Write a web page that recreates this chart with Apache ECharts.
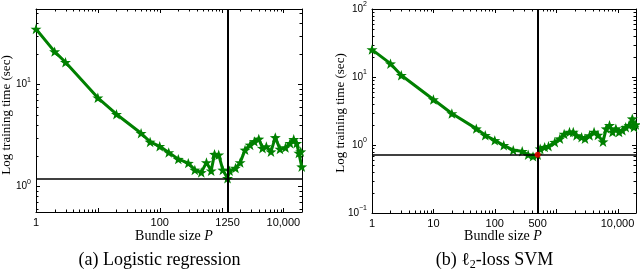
<!DOCTYPE html>
<html>
<head>
<meta charset="utf-8">
<script src="https://cdn.jsdelivr.net/npm/echarts@6/dist/echarts.min.js"></script>
<style>html,body{margin:0;padding:0;background:#fff;}#c{width:640px;height:271px;}</style>
</head>
<body>
<div id="c"></div>
<script>
// ---- data (a) Logistic regression ----
const leftP = [1,2,3,10,20,50,70,100,140,200,290,370,470,570,680,770,900,1050,1250,1350,1680,2000,2400,2900,3400,4000,4600,5300,6300,7400,8800,10800,12800,14700,16400,17800,19100,19800];
const leftT = [35,21,16.5,7.4,5.1,3.32,2.73,2.47,2.15,1.85,1.69,1.45,1.37,1.71,1.42,2.07,2.04,1.45,1.2,1.42,1.51,1.71,2.28,2.55,2.76,2.92,2.37,2.46,2.19,3.02,2.32,2.4,2.65,2.9,2.65,2.12,2.19,1.56];
const leftBestP = 1250;
const leftBestT = 1.2;
// ---- data (b) l2-loss SVM ----
const rightP = [1,2,3,10,20,50,70,100,140,200,280,350,420,500,550,650,750,950,1150,1350,1650,1900,2150,2600,2950,3500,4150,4800,5800,6550,7400,8300,9400,10600,12000,13600,15400,17400,18500,19800];
const rightT = [25.3,15.7,10.6,4.66,2.9,1.74,1.39,1.17,0.99,0.84,0.81,0.72,0.68,0.72,0.88,0.93,0.96,1.1,1.24,1.45,1.55,1.55,1.38,1.3,1.24,1.38,1.55,1.4,1.12,1.74,1.95,1.55,1.74,1.55,1.64,1.83,1.95,2.44,1.83,2.0];
const rightBestP = 500;
const rightBestT = 0.72;
// ---- tick labels ----
const leftXLabels = [1,100,1250,10000];
const rightXLabels = [1,10,100,500,10000];
const leftYLabels = [1,10];
const rightYLabels = [0.1,1,10,100];
const xRange = [1,20000];
const leftYRange = [0.56,55];
const rightYRange = [0.1,100];

const GREEN = '#008000';
const STAR = 'path://M0,-10 L2.35,-3.24 L9.51,-3.09 L3.8,1.24 L5.88,8.09 L0,4 L-5.88,8.09 L-3.8,1.24 L-9.51,-3.09 L-2.35,-3.24 Z';
const sans = 'Liberation Sans';
const serif = 'Liberation Serif';

// tick positions on a log axis: decades (major) and 2..9 multiples (minor)
function logTicks(lo, hi){
  const out=[];
  for(let d=-3; d<=6; d++){
    for(let m=1;m<=9;m++){
      const v = +(m*Math.pow(10,d)).toPrecision(6);
      if(v>=lo*0.9999 && v<=hi*1.0001) out.push([v, m===1]);
    }
  }
  return out;
}
function xFmt(v){ return v>=10000 ? String(v).replace(/\B(?=(\d{3})+(?!\d))/g, ',') : String(v); }
function yFmt(v){ const e=Math.round(Math.log10(v)); return '{b|10}{s|'+(e<0?'\u2212'+(-e):e)+'}'; }

const axCommon = {
  axisLine:{show:true, onZero:false, lineStyle:{color:'#000', width:1}},
  axisTick:{show:false}, minorTick:{show:false},
  splitLine:{show:false}, minorSplitLine:{show:false}
};
function xAxes(grid, labels){
  const base = Object.assign({type:'log', logBase:10, gridIndex:grid, min:xRange[0], max:xRange[1]}, axCommon);
  return [
    Object.assign({}, base, {position:'bottom', axisLabel:{show:true, customValues:labels, formatter:xFmt, margin:5, color:'#000', fontFamily:sans, fontSize:11}}),
    Object.assign({}, base, {position:'top', axisLabel:{show:false}})
  ];
}
function yAxes(grid, range, labels){
  const base = Object.assign({type:'log', logBase:10, gridIndex:grid, min:range[0], max:range[1]}, axCommon);
  return [
    Object.assign({}, base, {position:'left', axisLabel:{show:true, customValues:labels, formatter:yFmt, margin:5, color:'#000',
      rich:{b:{fontFamily:sans, fontSize:10, lineHeight:16, verticalAlign:'middle', color:'#000'},
            s:{fontFamily:sans, fontSize:7, lineHeight:16, verticalAlign:'top', color:'#000'}}}}),
    Object.assign({}, base, {position:'right', axisLabel:{show:false}})
  ];
}
function lineSeries(xi, yi, P, T, bp, bt){
  return {type:'line', xAxisIndex:xi, yAxisIndex:yi, data:P.map((p,i)=>[p,T[i]]),
    symbol:STAR, symbolSize:11, symbolKeepAspect:true, showAllSymbol:true,
    itemStyle:{color:GREEN}, lineStyle:{color:GREEN, width:3}, z:3,
    markLine:{silent:true, symbol:['none','none'], label:{show:false}, animation:false,
      data:[{xAxis:bp, lineStyle:{color:'#000', width:2, type:'solid'}},
            {yAxis:bt, lineStyle:{color:'#000', width:1.5, type:'solid'}}]}};
}
// tick marks drawn through the axes' own scales
function tickSeries(xi, yi, yRange, dir){
  const ticks = dir==='x' ? logTicks(xRange[0], xRange[1]) : logTicks(yRange[0], yRange[1]);
  return {type:'custom', xAxisIndex:xi, yAxisIndex:yi, silent:true, clip:false, z:1,
    data: ticks.map(t => dir==='x' ? [t[0], yRange[0], t[1]?1:0] : [xRange[0], t[0], t[1]?1:0]),
    renderItem:function(params, api){
      const major = api.value(2)===1;
      const len = major ? 4 : 2.5;
      const st = {stroke:'#000', lineWidth:1};
      if(dir==='x'){
        const v = api.value(0);
        const b = api.coord([v, yRange[0]]), t = api.coord([v, yRange[1]]);
        const x = Math.round(b[0])+0.5;
        return {type:'group', children:[
          {type:'line', shape:{x1:x, y1:b[1], x2:x, y2:b[1]-len}, style:st},
          {type:'line', shape:{x1:x, y1:t[1], x2:x, y2:t[1]+len}, style:st}]};
      } else {
        const v = api.value(1);
        const l = api.coord([xRange[0], v]), r = api.coord([xRange[1], v]);
        const y = Math.round(l[1])+0.5;
        return {type:'group', children:[
          {type:'line', shape:{x1:l[0], y1:y, x2:l[0]+len, y2:y}, style:st},
          {type:'line', shape:{x1:r[0], y1:y, x2:r[0]-len, y2:y}, style:st}]};
      }
    }};
}

const chart = echarts.init(document.getElementById('c'), null, {renderer:'canvas'});
chart.setOption({
  animation:false,
  backgroundColor:'#fff',
  grid:[{left:36, top:9, width:266, height:203}, {left:372, top:9, width:264, height:204}],
  xAxis:[...xAxes(0, leftXLabels), ...xAxes(1, rightXLabels)],
  yAxis:[...yAxes(0, leftYRange, leftYLabels), ...yAxes(1, rightYRange, rightYLabels)],
  series:[
    tickSeries(0, 0, leftYRange, 'x'),
    tickSeries(0, 0, leftYRange, 'y'),
    tickSeries(2, 2, rightYRange, 'x'),
    tickSeries(2, 2, rightYRange, 'y'),
    lineSeries(0, 0, leftP, leftT, leftBestP, leftBestT),
    lineSeries(2, 2, rightP, rightT, rightBestP, rightBestT),
    {type:'scatter', xAxisIndex:2, yAxisIndex:2, data:[[rightBestP, rightBestT]], symbol:'circle', symbolSize:6, itemStyle:{color:'#ff0000'}, z:5}
  ],
  graphic:[
    {type:'text', x:174, y:236, style:{text:'{n|Bundle size }{i|P}', align:'center', verticalAlign:'middle', textAlign:'center', textVerticalAlign:'middle',
      rich:{n:{fontFamily:serif, fontSize:14, fill:'#000'}, i:{fontFamily:serif, fontSize:14, fontStyle:'italic', fill:'#000'}}}},
    {type:'text', x:503, y:236, style:{text:'{n|Bundle size }{i|P}', align:'center', verticalAlign:'middle', textAlign:'center', textVerticalAlign:'middle',
      rich:{n:{fontFamily:serif, fontSize:14, fill:'#000'}, i:{fontFamily:serif, fontSize:14, fontStyle:'italic', fill:'#000'}}}},
    {type:'text', x:7, y:115, rotation:Math.PI/2, style:{text:'Log training time (sec)', font:'13px "Liberation Serif"', fill:'#000', align:'center', verticalAlign:'middle', textAlign:'center', textVerticalAlign:'middle'}},
    {type:'text', x:341, y:113, rotation:Math.PI/2, style:{text:'Log training time (sec)', font:'13px "Liberation Serif"', fill:'#000', align:'center', verticalAlign:'middle', textAlign:'center', textVerticalAlign:'middle'}},
    {type:'text', x:159.5, y:260, style:{text:'(a) Logistic regression', font:'18px "Liberation Serif"', fill:'#000', align:'center', verticalAlign:'middle', textAlign:'center', textVerticalAlign:'middle'}},
    {type:'text', x:494.5, y:260, style:{text:'{t|(b) }{l|\u2113}{u|2}{t|-loss SVM}', align:'center', verticalAlign:'middle', textAlign:'center', textVerticalAlign:'middle',
      rich:{t:{fontFamily:serif, fontSize:18, lineHeight:22, verticalAlign:'middle', fill:'#000'},
            l:{fontFamily:serif, fontSize:18, lineHeight:22, verticalAlign:'middle', fill:'#000'},
            u:{fontFamily:serif, fontSize:12, lineHeight:22, verticalAlign:'bottom', fill:'#000'}}}}
  ]
});
</script>
</body>
</html>
